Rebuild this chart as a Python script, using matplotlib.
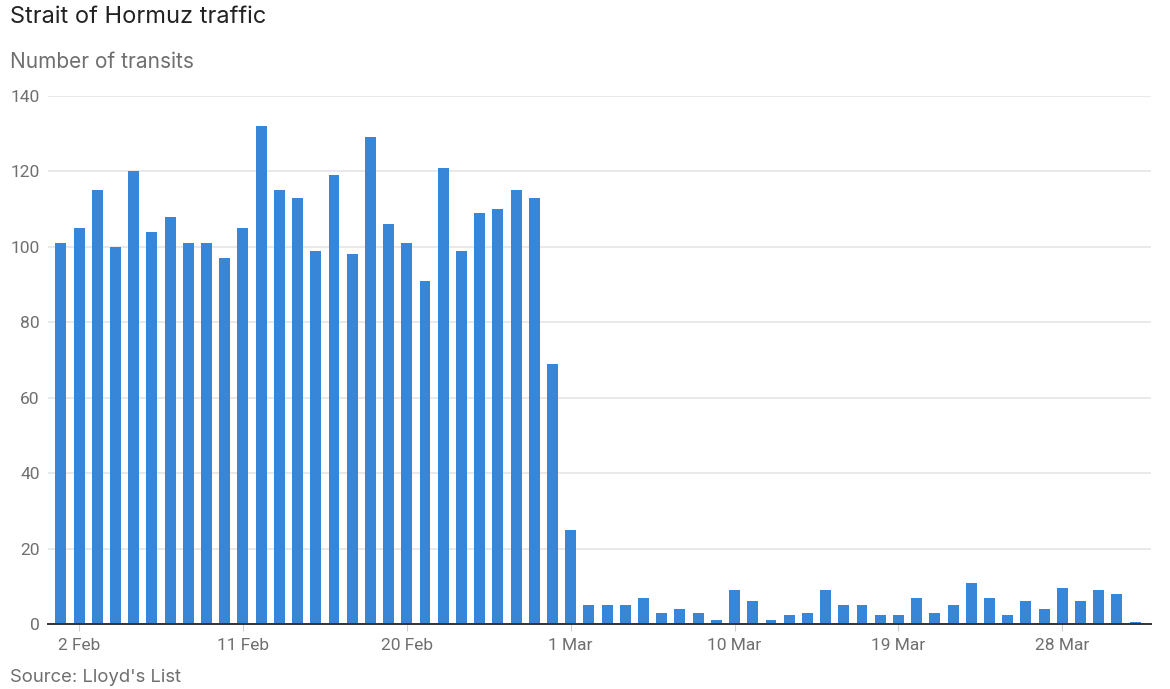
import pandas as pd
import matplotlib
matplotlib.use("Agg")
import matplotlib.pyplot as plt

# === Данные: суточные проходы через Ормузский пролив (Lloyd's List)
start_date = "2026-02-01"
feb_transits = [101, 105, 115, 100, 120, 104, 108, 101, 101, 97,
                105, 132, 115, 113, 99, 119, 98, 129, 106, 101,
                91, 121, 99, 109, 110, 115, 113, 69]
mar_transits = [25, 5, 5, 5, 7, 3, 4, 3, 1, 9,
                6, 1, 2.5, 3, 9, 5, 5, 2.5, 2.5, 7,
                3, 5, 11, 7, 2.5, 6, 4, 9.5, 6, 9,
                8]
apr_transits = [0.6]

tick_dates = ["2026-02-02", "2026-02-11", "2026-02-20", "2026-03-01",
              "2026-03-10", "2026-03-19", "2026-03-28"]
tick_labels = ["2 Feb", "11 Feb", "20 Feb", "1 Mar", "10 Mar", "19 Mar", "28 Mar"]
y_ticks = [0, 20, 40, 60, 80, 100, 120, 140]

values = feb_transits + mar_transits + apr_transits
dates = pd.date_range(start_date, periods=len(values), freq="D")

# === Стиль
BAR_COLOR = "#3886d8"
GRID_COLOR = "#e3e3e3"
TEXT_GRAY = "#6f6f6f"
TICK_FONT = ["Liberation Sans Narrow", "Roboto", "DejaVu Sans"]
MAIN_FONT = ["Inter", "DejaVu Sans"]

fig = plt.figure(figsize=(11.7, 6.89), dpi=100)
ax = fig.add_axes([0.041, 0.0943, 0.9428, 0.7664])

ax.bar(dates, values, width=0.6, color=BAR_COLOR, zorder=2)

# === Оси
ax.set_ylim(0, 140)
ax.set_xlim(dates[0] - pd.Timedelta(hours=17), dates[-1] + pd.Timedelta(hours=21))
ax.set_yticks(y_ticks)
ax.set_yticklabels([str(v) for v in y_ticks], family=TICK_FONT, fontsize=12.5, color=TEXT_GRAY)
ax.set_xticks(pd.to_datetime(tick_dates))
ax.set_xticklabels(tick_labels, family=TICK_FONT, fontsize=12.5, color=TEXT_GRAY)

ax.grid(axis="y", color=GRID_COLOR, linewidth=1.1, zorder=0)
ax.tick_params(axis="y", length=0, pad=6)
ax.tick_params(axis="x", length=5, width=0.8, color="#cfcfcf", pad=5)
for side in ["top", "right", "left"]:
    ax.spines[side].set_visible(False)
ax.spines["bottom"].set_color("#333333")
ax.spines["bottom"].set_linewidth(1.4)
ax.spines["bottom"].set_zorder(3)

# === Тексты
fig.text(10 / 1170, 1 - 17 / 689, "Strait of Hormuz traffic", family=MAIN_FONT,
         fontsize=17, color="#222222", va="center", ha="left")
fig.text(10 / 1170, 1 - 62 / 689, "Number of transits", family=MAIN_FONT,
         fontsize=15, color=TEXT_GRAY, va="center", ha="left")
fig.text(10 / 1170, 1 - 678 / 689, "Source: Lloyd's List", family=MAIN_FONT,
         fontsize=13.3, color=TEXT_GRAY, va="center", ha="left")

fig.savefig("out.png", dpi=100, facecolor="white")
